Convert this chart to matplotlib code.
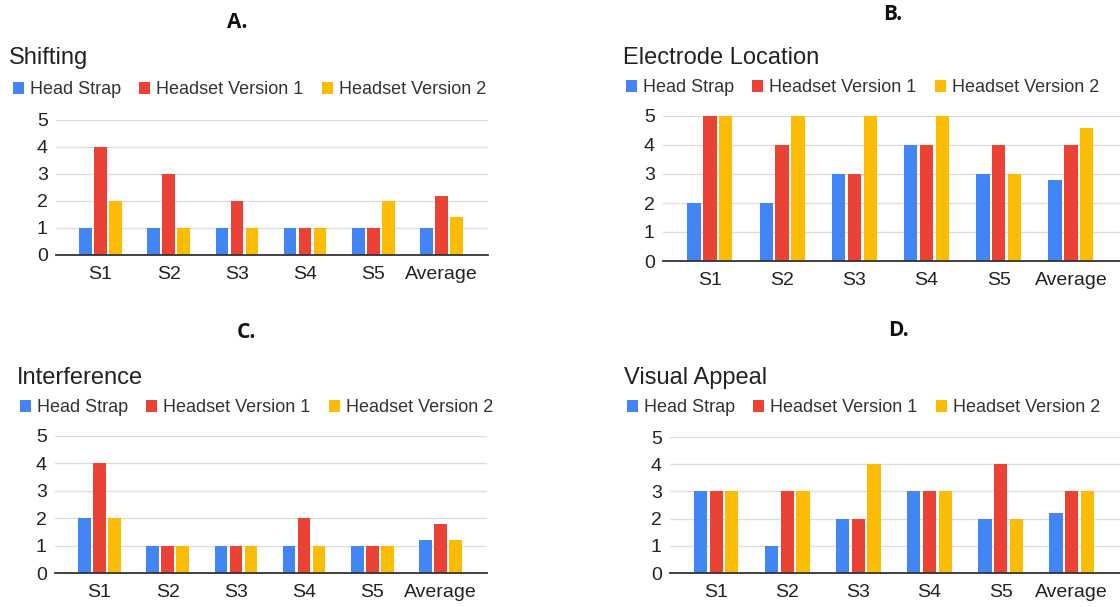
import matplotlib
matplotlib.use("Agg")
import matplotlib.pyplot as plt
from matplotlib.patches import Patch
import numpy as np

# categories and series
categories = ["S1", "S2", "S3", "S4", "S5", "Average"]
series_names = ["Head Strap", "Headset Version 1", "Headset Version 2"]
colors = ["#4285F4", "#EA4335", "#FBBC04"]

shifting_head_strap = [1, 1, 1, 1, 1, 1]
shifting_v1 = [4, 3, 2, 1, 1, 2.2]
shifting_v2 = [2, 1, 1, 1, 2, 1.4]

electrode_head_strap = [2, 2, 3, 4, 3, 2.8]
electrode_v1 = [5, 4, 3, 4, 4, 4]
electrode_v2 = [5, 5, 5, 5, 3, 4.6]

interference_head_strap = [2, 1, 1, 1, 1, 1.2]
interference_v1 = [4, 1, 1, 2, 1, 1.8]
interference_v2 = [2, 1, 1, 1, 1, 1.2]

visual_head_strap = [3, 1, 2, 3, 2, 2.2]
visual_v1 = [3, 3, 2, 3, 4, 3]
visual_v2 = [3, 3, 4, 3, 2, 3]

y_ticks = [0, 1, 2, 3, 4, 5]

W, H = 1120, 607
FONT = ["Liberation Sans", "DejaVu Sans"]
plt.rcParams["font.family"] = FONT

fig = plt.figure(figsize=(W / 100, H / 100), dpi=100)


def fx(px):
    return px / W


def fy(py):
    return 1 - py / H


# panel layout in pixels: letter pos, title pos, legend pos, plot box (left, top, right, bottom)
panels = [
    dict(letter="A.", letter_xy=(237, 22), title="Shifting", title_xy=(9, 58),
         legend_xy=(13, 90), box=(56, 120, 488, 255),
         data=[shifting_head_strap, shifting_v1, shifting_v2]),
    dict(letter="B.", letter_xy=(893, 15), title="Electrode Location", title_xy=(623, 58),
         legend_xy=(626, 88), box=(663, 116, 1120, 261),
         data=[electrode_head_strap, electrode_v1, electrode_v2]),
    dict(letter="C.", letter_xy=(246, 333), title="Interference", title_xy=(17, 378),
         legend_xy=(20, 408), box=(55, 436, 487, 573),
         data=[interference_head_strap, interference_v1, interference_v2]),
    dict(letter="D.", letter_xy=(898, 330), title="Visual Appeal", title_xy=(624, 378),
         legend_xy=(627, 408), box=(670, 437, 1120, 573),
         data=[visual_head_strap, visual_v1, visual_v2]),
]

bar_w = 0.185
offset = 0.22
x = np.arange(len(categories))

for p in panels:
    l, t, r, b = p["box"]
    ax = fig.add_axes([fx(l), fy(b), fx(r - l), (b - t) / H])
    for i, vals in enumerate(p["data"]):
        ax.bar(x + (i - 1) * offset, vals, width=bar_w, color=colors[i], zorder=3)

    ax.set_xlim(-0.65, 5.68)
    ax.set_ylim(0, 5)
    ax.set_yticks(y_ticks)
    ax.set_xticks(x)
    ax.set_xticklabels(categories)
    ax.tick_params(axis="both", length=0, labelsize=14, colors="#222222")
    ax.tick_params(axis="x", pad=8)
    ax.tick_params(axis="y", pad=6)
    ax.grid(axis="y", color="#dddddd", linewidth=1, zorder=0)
    ax.set_axisbelow(True)
    for side in ["top", "right", "left"]:
        ax.spines[side].set_visible(False)
    ax.spines["bottom"].set_color("#333333")
    ax.spines["bottom"].set_linewidth(1.3)
    ax.spines["bottom"].set_zorder(4)

    fig.text(fx(p["letter_xy"][0]), fy(p["letter_xy"][1]), p["letter"],
             family=["Open Sans", "DejaVu Sans"], fontweight="bold", fontsize=15,
             ha="center", va="center", color="#111111")
    fig.text(fx(p["title_xy"][0]), fy(p["title_xy"][1]), p["title"],
             fontsize=17, ha="left", va="center", color="#222222")

    handles = [Patch(facecolor=c, edgecolor="none") for c in colors]
    fig.legend(handles, series_names, loc="center left",
               bbox_to_anchor=(fx(p["legend_xy"][0]), fy(p["legend_xy"][1])),
               ncol=3, frameon=False, fontsize=13, handlelength=0.6, handleheight=0.6,
               handletextpad=0.35, columnspacing=1.0, borderpad=0, borderaxespad=0,
               labelcolor="#333333")

fig.savefig("out.png", dpi=100)
